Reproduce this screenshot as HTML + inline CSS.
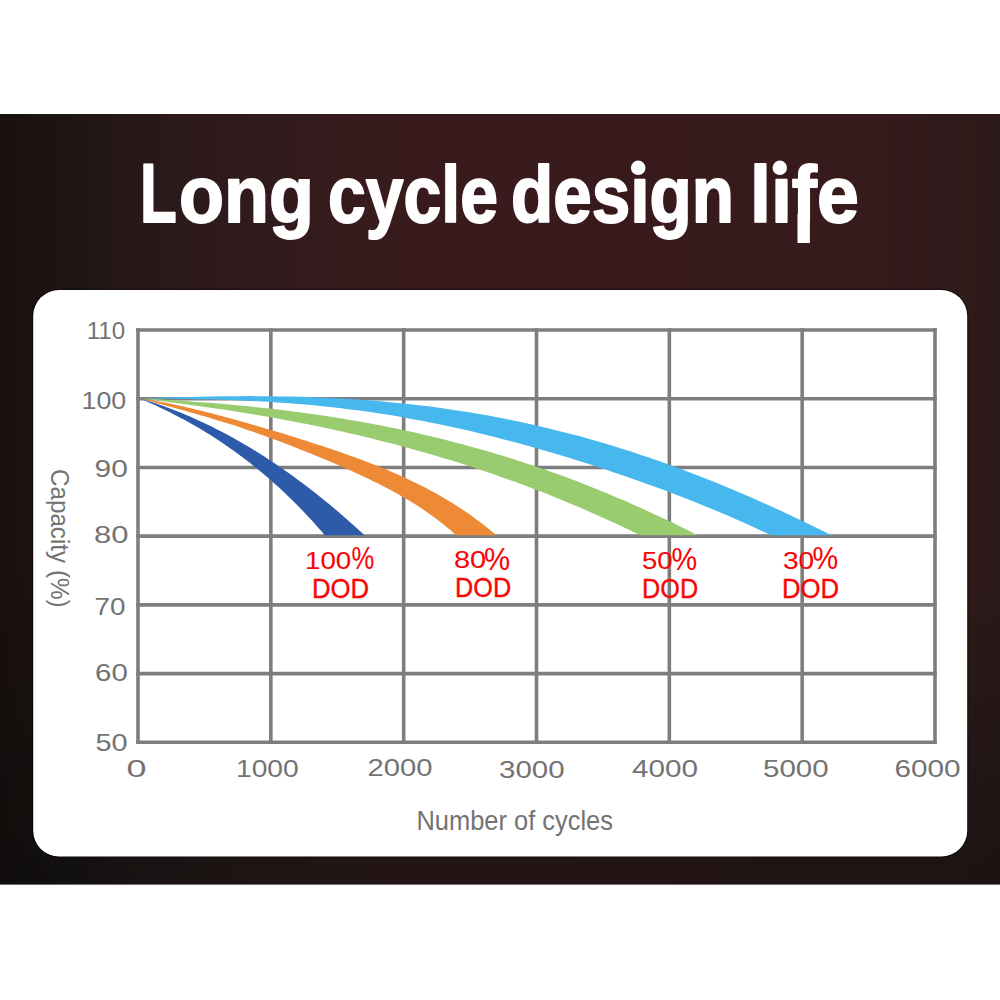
<!DOCTYPE html>
<html><head><meta charset="utf-8"><style>
html,body{margin:0;padding:0;background:#fff;}
body{width:1000px;height:1000px;overflow:hidden;position:relative;font-family:"Liberation Sans",sans-serif;}
svg{position:absolute;left:0;top:0;display:block;font-family:"Liberation Sans",sans-serif;}
</style></head><body>
<svg width="1000" height="1000" viewBox="0 0 1000 1000">
<defs>
<linearGradient id="bgh" gradientUnits="userSpaceOnUse" x1="0" y1="0" x2="1000" y2="0"><stop offset="0" stop-color="#1a100f"/><stop offset="0.015" stop-color="#1b1110"/><stop offset="0.075" stop-color="#1f1514"/><stop offset="0.135" stop-color="#291819"/><stop offset="0.255" stop-color="#311b1c"/><stop offset="0.38" stop-color="#381b1d"/><stop offset="0.495" stop-color="#391a1d"/><stop offset="0.755" stop-color="#371a1c"/><stop offset="0.875" stop-color="#361a1c"/><stop offset="0.975" stop-color="#2f1a1a"/><stop offset="1" stop-color="#2d1a1a"/></linearGradient>
<linearGradient id="bgv" gradientUnits="userSpaceOnUse" x1="0" y1="0" x2="0" y2="1000"><stop offset="0" stop-color="#000a08" stop-opacity="0"/><stop offset="0.55" stop-color="#000a08" stop-opacity="0"/><stop offset="0.715" stop-color="#000a08" stop-opacity="0.2"/><stop offset="0.87" stop-color="#000a08" stop-opacity="0.4"/><stop offset="1" stop-color="#000a08" stop-opacity="0.42"/></linearGradient>
</defs>
<rect x="0" y="0" width="1000" height="1000" fill="#ffffff"/>
<rect x="0" y="114" width="1000" height="770.5" fill="url(#bgh)"/>
<rect x="0" y="114" width="1000" height="770.5" fill="url(#bgv)"/>
<rect x="32.0" y="288.8" width="936.4" height="568.9" rx="27.2" ry="27.2" fill="#000" fill-opacity="0.45"/>
<rect x="33.2" y="290" width="934.0" height="566.5" rx="26" ry="26" fill="#ffffff"/>
<g stroke="#7e7e7e" stroke-width="3.6" stroke-linecap="butt"><line x1="136.20" x2="936.80" y1="330.00" y2="330.00"/><line x1="136.20" x2="936.80" y1="398.72" y2="398.72"/><line x1="136.20" x2="936.80" y1="467.43" y2="467.43"/><line x1="136.20" x2="936.80" y1="536.15" y2="536.15"/><line x1="136.20" x2="936.80" y1="604.87" y2="604.87"/><line x1="136.20" x2="936.80" y1="673.58" y2="673.58"/><line x1="136.20" x2="936.80" y1="742.30" y2="742.30"/><line x1="138.00" x2="138.00" y1="328.20" y2="744.10"/><line x1="270.83" x2="270.83" y1="328.20" y2="744.10"/><line x1="403.67" x2="403.67" y1="328.20" y2="744.10"/><line x1="536.50" x2="536.50" y1="328.20" y2="744.10"/><line x1="669.33" x2="669.33" y1="328.20" y2="744.10"/><line x1="802.17" x2="802.17" y1="328.20" y2="744.10"/><line x1="935.00" x2="935.00" y1="328.20" y2="744.10"/></g>
<polygon fill="#46b8ee" points="140.0,398.4 150.0,398.1 160.0,397.7 170.1,397.4 180.1,397.2 190.1,396.9 200.1,396.7 210.1,396.5 220.2,396.3 230.2,396.2 240.2,396.2 250.2,396.1 260.2,396.2 270.3,396.2 280.3,396.4 290.3,396.6 300.3,396.8 310.3,397.1 320.4,397.5 330.4,398.0 340.4,398.5 350.4,399.1 360.5,399.7 370.5,400.5 380.5,401.3 390.5,402.2 400.5,403.2 410.6,404.2 420.6,405.4 430.6,406.6 440.6,408.0 450.6,409.4 460.7,410.9 470.7,412.5 480.7,414.2 490.7,416.0 500.7,417.9 510.8,419.9 520.8,422.0 530.8,424.2 540.8,426.5 550.8,428.9 560.9,431.4 570.9,434.0 580.9,436.6 590.9,439.4 600.9,442.3 611.0,445.3 621.0,448.4 631.0,451.6 641.0,454.9 651.0,458.3 661.1,461.8 671.1,465.4 681.1,469.1 691.1,472.9 701.1,476.8 711.2,480.8 721.2,484.8 731.2,489.0 741.2,493.2 751.3,497.6 761.3,502.0 771.3,506.5 781.3,511.1 791.3,515.8 801.4,520.5 811.4,525.3 821.4,530.2 831.4,535.2 771.0,535.2 761.8,530.9 752.7,526.7 743.5,522.6 734.4,518.6 725.2,514.6 716.1,510.8 706.9,507.0 697.8,503.3 688.7,499.6 679.5,496.1 670.4,492.6 661.2,489.1 652.1,485.8 642.9,482.5 633.8,479.2 624.6,476.0 615.5,472.9 606.4,469.8 597.2,466.8 588.1,463.8 578.9,460.9 569.8,458.1 560.6,455.3 551.5,452.6 542.3,449.9 533.2,447.3 524.1,444.8 514.9,442.3 505.8,439.9 496.6,437.5 487.5,435.2 478.3,433.0 469.2,430.8 460.0,428.8 450.9,426.7 441.8,424.8 432.6,422.9 423.5,421.1 414.3,419.4 405.2,417.7 396.0,416.1 386.9,414.6 377.8,413.2 368.6,411.8 359.5,410.6 350.3,409.4 341.2,408.2 332.0,407.2 322.9,406.2 313.7,405.3 304.6,404.5 295.5,403.7 286.3,403.0 277.2,402.4 268.0,401.8 258.9,401.3 249.7,400.9 240.6,400.5 231.4,400.1 222.3,399.8 213.2,399.6 204.0,399.4 194.9,399.2 185.7,399.0 176.6,398.9 167.4,398.8 158.3,398.7 149.1,398.5 140.0,398.4"/><polygon fill="#98cc6e" points="140.0,398.4 148.1,398.8 156.2,399.3 164.2,399.7 172.3,400.2 180.4,400.7 188.5,401.3 196.6,401.9 204.6,402.5 212.7,403.1 220.8,403.8 228.9,404.5 237.0,405.2 245.0,406.0 253.1,406.8 261.2,407.7 269.3,408.6 277.4,409.5 285.4,410.5 293.5,411.5 301.6,412.6 309.7,413.7 317.8,414.8 325.8,416.0 333.9,417.3 342.0,418.6 350.1,419.9 358.2,421.3 366.2,422.8 374.3,424.3 382.4,425.8 390.5,427.4 398.6,429.1 406.6,430.8 414.7,432.6 422.8,434.5 430.9,436.3 439.0,438.3 447.0,440.3 455.1,442.4 463.2,444.5 471.3,446.7 479.4,449.0 487.4,451.3 495.5,453.7 503.6,456.1 511.7,458.6 519.8,461.2 527.8,463.9 535.9,466.6 544.0,469.3 552.1,472.2 560.2,475.1 568.2,478.1 576.3,481.1 584.4,484.2 592.5,487.4 600.6,490.7 608.6,494.0 616.7,497.4 624.8,500.8 632.9,504.4 641.0,508.0 649.0,511.7 657.1,515.4 665.2,519.2 673.3,523.1 681.3,527.1 689.4,531.1 697.5,535.2 640.2,535.2 633.0,531.7 625.7,528.2 618.5,524.8 611.2,521.5 604.0,518.2 596.7,514.9 589.5,511.7 582.2,508.6 575.0,505.5 567.7,502.4 560.5,499.4 553.2,496.5 546.0,493.6 538.7,490.8 531.5,488.0 524.2,485.3 517.0,482.6 509.7,480.0 502.5,477.4 495.2,474.8 488.0,472.3 480.7,469.9 473.5,467.5 466.2,465.1 459.0,462.8 451.7,460.6 444.5,458.4 437.2,456.2 430.0,454.1 422.7,452.0 415.5,449.9 408.2,448.0 401.0,446.0 393.7,444.1 386.5,442.2 379.2,440.4 372.0,438.6 364.7,436.8 357.5,435.1 350.2,433.4 343.0,431.8 335.7,430.2 328.5,428.6 321.2,427.1 314.0,425.6 306.7,424.1 299.5,422.7 292.2,421.3 285.0,420.0 277.7,418.6 270.5,417.3 263.2,416.1 256.0,414.8 248.7,413.6 241.5,412.4 234.2,411.3 227.0,410.1 219.7,409.0 212.5,408.0 205.2,406.9 198.0,405.9 190.7,404.9 183.5,403.9 176.2,402.9 169.0,402.0 161.7,401.1 154.5,400.2 147.2,399.3 140.0,398.4"/><polygon fill="#ee8a35" points="140.0,398.4 145.2,399.2 150.3,400.0 155.5,400.9 160.7,401.8 165.8,402.8 171.0,403.8 176.2,404.9 181.3,406.0 186.5,407.2 191.7,408.4 196.8,409.7 202.0,410.9 207.1,412.2 212.3,413.5 217.5,414.9 222.6,416.3 227.8,417.7 233.0,419.1 238.1,420.5 243.3,422.0 248.5,423.4 253.6,424.9 258.8,426.4 264.0,427.9 269.1,429.5 274.3,431.0 279.5,432.6 284.6,434.1 289.8,435.7 295.0,437.3 300.1,438.9 305.3,440.6 310.4,442.2 315.6,443.9 320.8,445.6 325.9,447.3 331.1,449.0 336.3,450.8 341.4,452.6 346.6,454.4 351.8,456.3 356.9,458.1 362.1,460.1 367.3,462.0 372.4,464.0 377.6,466.1 382.8,468.1 387.9,470.3 393.1,472.5 398.3,474.8 403.4,477.1 408.6,479.5 413.8,481.9 418.9,484.5 424.1,487.1 429.2,489.8 434.4,492.6 439.6,495.5 444.7,498.5 449.9,501.6 455.1,504.8 460.2,508.1 465.4,511.6 470.6,515.1 475.7,518.9 480.9,522.7 486.1,526.7 491.2,530.9 496.4,535.2 456.0,535.2 451.4,531.1 446.9,527.2 442.3,523.5 437.7,519.9 433.1,516.5 428.5,513.2 424.0,510.0 419.4,507.0 414.8,504.1 410.2,501.3 405.6,498.5 401.1,495.9 396.5,493.3 391.9,490.8 387.3,488.3 382.7,486.0 378.2,483.6 373.6,481.4 369.0,479.1 364.4,477.0 359.8,474.8 355.3,472.7 350.7,470.6 346.1,468.6 341.5,466.5 336.9,464.5 332.4,462.6 327.8,460.6 323.2,458.7 318.6,456.8 314.0,454.9 309.5,453.0 304.9,451.2 300.3,449.4 295.7,447.6 291.1,445.8 286.6,444.0 282.0,442.3 277.4,440.6 272.8,438.9 268.2,437.2 263.7,435.5 259.1,433.9 254.5,432.3 249.9,430.7 245.3,429.2 240.8,427.6 236.2,426.1 231.6,424.6 227.0,423.2 222.4,421.8 217.9,420.4 213.3,419.0 208.7,417.6 204.1,416.3 199.5,414.9 195.0,413.6 190.4,412.4 185.8,411.1 181.2,409.8 176.6,408.6 172.1,407.3 167.5,406.1 162.9,404.8 158.3,403.6 153.7,402.3 149.2,401.0 144.6,399.7 140.0,398.4"/><polygon fill="#2e5ba9" points="140.0,398.4 143.3,399.4 146.5,400.4 149.8,401.4 153.0,402.5 156.3,403.5 159.5,404.7 162.8,405.8 166.0,407.0 169.3,408.2 172.5,409.4 175.8,410.7 179.0,412.0 182.3,413.3 185.6,414.7 188.8,416.1 192.1,417.5 195.3,418.9 198.6,420.4 201.8,421.9 205.1,423.4 208.3,425.0 211.6,426.6 214.8,428.2 218.1,429.9 221.3,431.5 224.6,433.3 227.9,435.0 231.1,436.8 234.4,438.6 237.6,440.4 240.9,442.3 244.1,444.2 247.4,446.1 250.6,448.0 253.9,450.0 257.1,452.0 260.4,454.1 263.6,456.1 266.9,458.2 270.1,460.4 273.4,462.5 276.7,464.7 279.9,466.9 283.2,469.2 286.4,471.5 289.7,473.8 292.9,476.1 296.2,478.5 299.4,480.9 302.7,483.3 305.9,485.8 309.2,488.3 312.4,490.8 315.7,493.3 319.0,495.9 322.2,498.5 325.5,501.2 328.7,503.8 332.0,506.5 335.2,509.3 338.5,512.0 341.7,514.8 345.0,517.7 348.2,520.5 351.5,523.4 354.7,526.3 358.0,529.2 361.3,532.2 364.5,535.2 324.8,535.2 322.1,532.1 319.4,529.0 316.7,526.0 314.1,523.0 311.4,520.1 308.7,517.2 306.0,514.3 303.4,511.5 300.7,508.7 298.0,506.0 295.3,503.3 292.6,500.6 290.0,498.0 287.3,495.4 284.6,492.8 281.9,490.3 279.3,487.8 276.6,485.4 273.9,483.0 271.2,480.6 268.5,478.3 265.9,476.0 263.2,473.7 260.5,471.4 257.8,469.2 255.2,467.1 252.5,464.9 249.8,462.8 247.1,460.7 244.4,458.7 241.8,456.7 239.1,454.7 236.4,452.7 233.7,450.8 231.0,448.9 228.4,447.0 225.7,445.2 223.0,443.3 220.3,441.5 217.7,439.8 215.0,438.0 212.3,436.3 209.6,434.6 206.9,433.0 204.3,431.3 201.6,429.7 198.9,428.1 196.2,426.6 193.6,425.0 190.9,423.5 188.2,422.0 185.5,420.5 182.8,419.1 180.2,417.7 177.5,416.2 174.8,414.9 172.1,413.5 169.5,412.1 166.8,410.8 164.1,409.5 161.4,408.2 158.7,406.9 156.1,405.6 153.4,404.4 150.7,403.2 148.0,401.9 145.4,400.7 142.7,399.6 140.0,398.4"/>
<text x="140.00" y="222.30" fill="#ffffff" font-size="84" font-weight="bold" stroke="#ffffff" stroke-width="2" stroke-linejoin="round" textLength="36.73" lengthAdjust="spacingAndGlyphs">L</text><text transform="translate(0 222.30) scale(1 0.95) translate(0 -222.30)" x="179.00" y="222.30" fill="#ffffff" font-size="84" font-weight="bold" stroke="#ffffff" stroke-width="2" stroke-linejoin="round" textLength="134.88" lengthAdjust="spacingAndGlyphs">ong</text><text transform="translate(0 222.30) scale(1 0.95) translate(0 -222.30)" x="328.00" y="222.30" fill="#ffffff" font-size="84" font-weight="bold" stroke="#ffffff" stroke-width="2" stroke-linejoin="round" textLength="169.90" lengthAdjust="spacingAndGlyphs">cycle</text><text transform="translate(0 222.30) scale(1 0.95) translate(0 -222.30)" x="511.00" y="222.30" fill="#ffffff" font-size="84" font-weight="bold" stroke="#ffffff" stroke-width="2" stroke-linejoin="round" textLength="222.92" lengthAdjust="spacingAndGlyphs">desıgn</text><text transform="translate(0 222.30) scale(1 0.95) translate(0 -222.30)" x="750.00" y="222.30" fill="#ffffff" font-size="84" font-weight="bold" stroke="#ffffff" stroke-width="2" stroke-linejoin="round" textLength="108.75" lengthAdjust="spacingAndGlyphs">lıfe</text><text x="86.75" y="338.88" fill="#737373" font-size="23.3" textLength="38.36" lengthAdjust="spacingAndGlyphs">110</text><text x="81.50" y="408.50" fill="#737373" font-size="23.3" textLength="44.76" lengthAdjust="spacingAndGlyphs">100</text><text x="94.50" y="477.25" fill="#737373" font-size="23.3" textLength="33.29" lengthAdjust="spacingAndGlyphs">90</text><text x="94.00" y="543.25" fill="#737373" font-size="23.3" textLength="34.48" lengthAdjust="spacingAndGlyphs">80</text><text x="94.50" y="614.50" fill="#737373" font-size="23.3" textLength="31.00" lengthAdjust="spacingAndGlyphs">70</text><text x="95.00" y="681.25" fill="#737373" font-size="23.3" textLength="32.78" lengthAdjust="spacingAndGlyphs">60</text><text x="95.50" y="751.25" fill="#737373" font-size="23.3" textLength="32.18" lengthAdjust="spacingAndGlyphs">50</text><text x="126.50" y="777.00" fill="#737373" font-size="23.3" textLength="20.00" lengthAdjust="spacingAndGlyphs">0</text><text x="236.00" y="776.75" fill="#737373" font-size="23.3" textLength="62.68" lengthAdjust="spacingAndGlyphs">1000</text><text x="367.50" y="776.00" fill="#737373" font-size="23.3" textLength="65.09" lengthAdjust="spacingAndGlyphs">2000</text><text x="499.00" y="777.75" fill="#737373" font-size="23.3" textLength="65.61" lengthAdjust="spacingAndGlyphs">3000</text><text x="632.00" y="777.00" fill="#737373" font-size="23.3" textLength="66.03" lengthAdjust="spacingAndGlyphs">4000</text><text x="763.00" y="777.00" fill="#737373" font-size="23.3" textLength="65.62" lengthAdjust="spacingAndGlyphs">5000</text><text x="894.50" y="777.00" fill="#737373" font-size="23.3" textLength="66.13" lengthAdjust="spacingAndGlyphs">6000</text><text x="416.50" y="830.30" fill="#737373" font-size="27" textLength="196.49" lengthAdjust="spacingAndGlyphs">Number of cycles</text><text transform="translate(51.30 469.00) rotate(90)" x="0" y="0" fill="#737373" font-size="26.5" textLength="138.54" lengthAdjust="spacingAndGlyphs">Capacity (%)</text><text x="305.00" y="569.00" fill="#f70606" font-size="24.7" stroke="#f70606" stroke-width="0.1" stroke-linejoin="round" textLength="46.23" lengthAdjust="spacingAndGlyphs">100</text><text x="351.50" y="568.80" fill="#f70606" font-size="30.5" stroke="#f70606" stroke-width="0.1" stroke-linejoin="round" textLength="22.79" lengthAdjust="spacingAndGlyphs">%</text><text x="312.00" y="597.50" fill="#f70606" font-size="27.5" stroke="#f70606" stroke-width="0.35" stroke-linejoin="round" textLength="57.18" lengthAdjust="spacingAndGlyphs">DOD</text><text x="454.00" y="568.20" fill="#f70606" font-size="24.7" stroke="#f70606" stroke-width="0.1" stroke-linejoin="round" textLength="32.16" lengthAdjust="spacingAndGlyphs">80</text><text x="484.00" y="569.60" fill="#f70606" font-size="30.5" stroke="#f70606" stroke-width="0.1" stroke-linejoin="round" textLength="26.13" lengthAdjust="spacingAndGlyphs">%</text><text x="455.00" y="597.20" fill="#f70606" font-size="27.5" stroke="#f70606" stroke-width="0.35" stroke-linejoin="round" textLength="56.13" lengthAdjust="spacingAndGlyphs">DOD</text><text x="642.00" y="569.00" fill="#f70606" font-size="24.7" stroke="#f70606" stroke-width="0.1" stroke-linejoin="round" textLength="30.63" lengthAdjust="spacingAndGlyphs">50</text><text x="671.50" y="569.50" fill="#f70606" font-size="30.5" stroke="#f70606" stroke-width="0.1" stroke-linejoin="round" textLength="25.65" lengthAdjust="spacingAndGlyphs">%</text><text x="642.00" y="597.50" fill="#f70606" font-size="27.5" stroke="#f70606" stroke-width="0.35" stroke-linejoin="round" textLength="56.13" lengthAdjust="spacingAndGlyphs">DOD</text><text x="783.00" y="569.40" fill="#f70606" font-size="24.7" stroke="#f70606" stroke-width="0.1" stroke-linejoin="round" textLength="31.20" lengthAdjust="spacingAndGlyphs">30</text><text x="812.50" y="568.90" fill="#f70606" font-size="30.5" stroke="#f70606" stroke-width="0.1" stroke-linejoin="round" textLength="25.65" lengthAdjust="spacingAndGlyphs">%</text><text x="782.00" y="597.50" fill="#f70606" font-size="27.5" stroke="#f70606" stroke-width="0.35" stroke-linejoin="round" textLength="57.18" lengthAdjust="spacingAndGlyphs">DOD</text>
<rect x="797.5" y="214" width="12.4" height="29" fill="#ffffff"/>
<circle cx="638.2" cy="167.8" r="7.3" fill="#ffffff"/>
<circle cx="779.8" cy="167.8" r="7.2" fill="#ffffff"/>
</svg>
</body></html>
